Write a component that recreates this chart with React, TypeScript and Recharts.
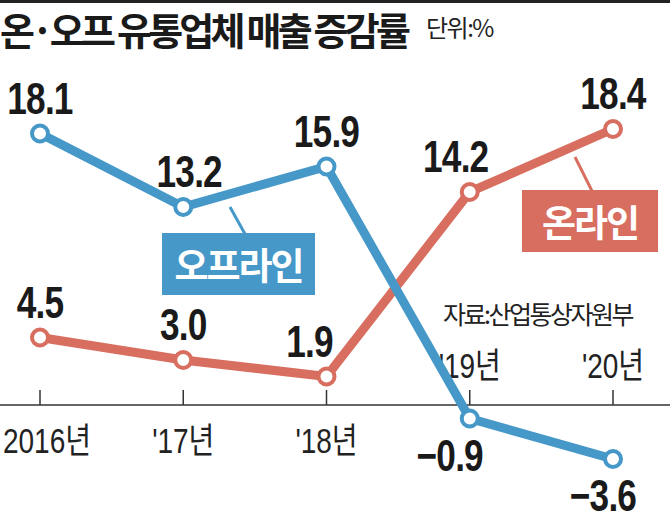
import { LineChart, Line, XAxis, YAxis, ReferenceLine, LabelList } from 'recharts'

const years = ['2016년', "'17년", "'18년", "'19년", "'20년"]
const offline = [18.1, 13.2, 15.9, -0.9, -3.6]
const online = [4.5, 3.0, 1.9, 14.2, 18.4]

// small horizontal nudges for value labels, so they sit like the print graphic
const offlineDx = [0, 6, 0, -20, -10]
const onlineDx = [0, 0, -17, -14, 0]

const data = years.map((year, i) => ({ year, offline: offline[i], online: online[i] }))

const BLUE = '#4598c8'
const RED = '#d86e5f'
const NUM_FONT = "'Liberation Sans', 'Noto Sans CJK KR', sans-serif"
const KR_FONT = "'Noto Sans CJK KR', 'Noto Sans', sans-serif"

const fmt = (v: number) => (v < 0 ? '\u2212' + Math.abs(v).toFixed(1) : v.toFixed(1))

const valueLabel = (dx: number[]) => (props: any) => {
    const { x, y, value, index } = props
    const below = value < 0
    const tx = x + dx[index]
    const ty = below ? y + 52 : y - 20
    return (
        <text
            transform={`translate(${tx},${ty}) scale(0.8,1)`}
            textAnchor="middle"
            fontFamily={NUM_FONT}
            fontWeight={700}
            fontSize={44}
            letterSpacing={-1}
            fill="#1a1a1a"
        >
            {fmt(value)}
        </text>
    )
}

const tickLabel = (text: string, below: boolean, dx: number) => (props: any) => {
    const { viewBox } = props
    const cx = viewBox.x + viewBox.width / 2 + dx
    const ty = below ? viewBox.y + viewBox.height + 48 : viewBox.y - 12
    return (
        <text
            transform={`translate(${cx},${ty}) scale(0.8,1)`}
            textAnchor="middle"
            fontFamily={NUM_FONT}
            fontSize={35}
            fill="#222"
        >
            {text}
        </text>
    )
}

const App = () => {
    return (
        <div style={{ position: 'absolute', left: 0, top: 0, width: 670, height: 519, background: '#fff', overflow: 'hidden' }}>
            <div style={{ position: 'absolute', left: 0, top: 0, width: 670, height: 3, background: '#222' }} />
            <div
                style={{
                    position: 'absolute', left: 0, top: 6, fontFamily: KR_FONT, fontWeight: 700,
                    fontSize: 38, letterSpacing: -3.8, lineHeight: 1.2, color: '#1a1a1a', whiteSpace: 'nowrap',
                }}
            >
                온·오프 유통업체 매출 증감률
            </div>
            <div
                style={{
                    position: 'absolute', left: 426, top: 13, fontFamily: KR_FONT, fontSize: 24,
                    letterSpacing: -1.5, lineHeight: 1.2, color: '#222', whiteSpace: 'nowrap',
                }}
            >
                단위:%
            </div>

            <LineChart width={670} height={519} data={data} margin={{ top: 105, right: 0, bottom: 39, left: 0 }}>
                <XAxis dataKey="year" hide padding={{ left: 40, right: 57 }} />
                <YAxis hide domain={[-5, 20]} allowDataOverflow />
                <ReferenceLine y={0} stroke="#333" strokeWidth={1.5} />
                {years.map((year, i) => {
                    const below = Math.min(offline[i], online[i]) >= 0
                    return (
                        <ReferenceLine
                            key={year}
                            segment={[{ x: year, y: 0 }, { x: year, y: 1 }]}
                            stroke="#333"
                            strokeWidth={1.5}
                            label={tickLabel(year, below, i === 0 ? 7 : 0)}
                        />
                    )
                })}
                <Line
                    dataKey="online"
                    stroke={RED}
                    strokeWidth={9}
                    dot={{ r: 8, fill: '#fff', stroke: RED, strokeWidth: 4 }}
                    activeDot={false}
                    isAnimationActive={false}
                >
                    <LabelList dataKey="online" content={valueLabel(onlineDx)} />
                </Line>
                <Line
                    dataKey="offline"
                    stroke={BLUE}
                    strokeWidth={9}
                    dot={{ r: 8, fill: '#fff', stroke: BLUE, strokeWidth: 4 }}
                    activeDot={false}
                    isAnimationActive={false}
                >
                    <LabelList dataKey="offline" content={valueLabel(offlineDx)} />
                </Line>
            </LineChart>

            {/* callout pointers */}
            <svg width={670} height={519} style={{ position: 'absolute', left: 0, top: 0, pointerEvents: 'none' }}>
                <line x1={245} y1={234} x2={230} y2={207} stroke={BLUE} strokeWidth={3} />
                <line x1={592} y1={191} x2={575} y2={157} stroke={RED} strokeWidth={3} />
            </svg>
            <div
                style={{
                    position: 'absolute', left: 162, top: 233, width: 153, height: 62, background: BLUE,
                    color: '#fff', fontFamily: KR_FONT, fontWeight: 700, fontSize: 37, letterSpacing: -2,
                    display: 'flex', alignItems: 'center', justifyContent: 'center',
                }}
            >
                오프라인
            </div>
            <div
                style={{
                    position: 'absolute', left: 522, top: 190, width: 136, height: 62, background: RED,
                    color: '#fff', fontFamily: KR_FONT, fontWeight: 700, fontSize: 37, letterSpacing: -2,
                    display: 'flex', alignItems: 'center', justifyContent: 'center',
                }}
            >
                온라인
            </div>
            <div
                style={{
                    position: 'absolute', left: 443, top: 298, fontFamily: KR_FONT, fontSize: 25,
                    letterSpacing: -2.5, lineHeight: 1.2, color: '#222', whiteSpace: 'nowrap',
                }}
            >
                자료:산업통상자원부
            </div>
        </div>
    )
}

export default App
